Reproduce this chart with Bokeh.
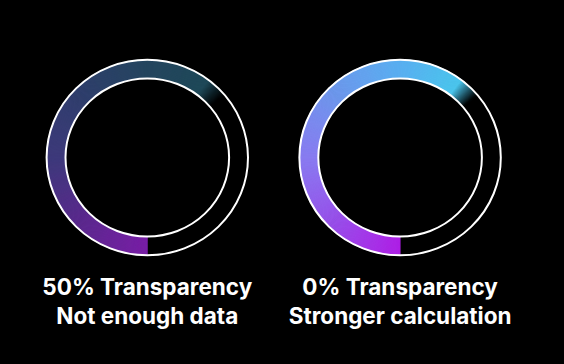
import numpy as np
from bokeh.plotting import figure
from bokeh.models import Range1d
from bokeh.core.properties import value
from bokeh.embed import file_html
from bokeh.resources import INLINE

# ---- data ----
titles = ["50% Transparency", "0% Transparency"]
subtitles = ["Not enough data", "Stronger calculation"]
fill_pct = [64, 64]  # share of the ring that is filled, starting at 6 o'clock, clockwise
stop_pos = [0.0, 0.2, 0.39, 0.59, 0.78, 0.945, 1.0]
stops_50 = ["#7a1fa8", "#5c2a90", "#3e3a7c", "#30406e", "#254660", "#1f4a5a", "#000000"]
stops_0 = ["#b020e8", "#9a52ee", "#8a7cf2", "#6f9af0", "#5ab0f2", "#4cc8f0", "#000000"]
ring_stops = [stops_50, stops_0]

# ---- layout (figure pixel space, y downward) ----
W, H = 548, 348
centers_x = [138.8, 391.6]
center_y = 149.0
rx_out, ry_out = 100.7, 97.8
rx_in, ry_in = 81.8, 79.0
title_y = 278
sub_y = 307


def hex2rgb(h):
    h = h.lstrip("#")
    return np.array([int(h[i:i + 2], 16) for i in (0, 2, 4)], dtype=float)


def color_at(t, stops):
    rgbs = [hex2rgb(c) for c in stops]
    for k in range(len(stop_pos) - 1):
        if stop_pos[k] <= t <= stop_pos[k + 1]:
            f = (t - stop_pos[k]) / (stop_pos[k + 1] - stop_pos[k])
            c = rgbs[k] * (1 - f) + rgbs[k + 1] * f
            return "#%02x%02x%02x" % tuple(int(round(v)) for v in c)
    c = rgbs[-1]
    return "#%02x%02x%02x" % tuple(int(v) for v in c)


p = figure(width=W, height=H, output_backend="svg", toolbar_location=None,
           x_range=Range1d(0, W), y_range=Range1d(H, 0), min_border=0,
           background_fill_color="#000000", border_fill_color="#000000",
           outline_line_color=None)
p.axis.visible = False
p.grid.visible = False

for cx, pct, stops in zip(centers_x, fill_pct, ring_stops):
    span = 360.0 * pct / 100.0
    n = int(round(span * 2))
    xs, ys, cols = [], [], []
    for i in range(n):
        a0 = np.radians(180.0 + span * i / n)
        a1 = np.radians(180.0 + span * (i + 1) / n)
        t = (i + 0.5) / n
        xs.append([cx + rx_out * np.sin(a0), cx + rx_out * np.sin(a1),
                   cx + rx_in * np.sin(a1), cx + rx_in * np.sin(a0)])
        ys.append([center_y - ry_out * np.cos(a0), center_y - ry_out * np.cos(a1),
                   center_y - ry_in * np.cos(a1), center_y - ry_in * np.cos(a0)])
        cols.append(color_at(t, stops))
    p.patches(xs, ys, fill_color=cols, line_color=cols, line_width=0.8)

p.ellipse(x=centers_x, y=[center_y] * 2, width=2 * rx_out, height=2 * ry_out,
          fill_color=None, line_color="white", line_width=2)
p.ellipse(x=centers_x, y=[center_y] * 2, width=2 * rx_in, height=2 * ry_in,
          fill_color=None, line_color="white", line_width=2)

p.text(x=centers_x, y=[title_y] * 2, text=titles, text_font=value("Inter"),
       text_font_size="22.5px", text_font_style="bold", text_color="white",
       text_align="center", text_baseline="alphabetic")
p.text(x=centers_x, y=[sub_y] * 2, text=subtitles, text_font=value("Inter"),
       text_font_size="22.5px", text_font_style="bold", text_color="white",
       text_align="center", text_baseline="alphabetic")

html = file_html(p, INLINE)
html = html.replace(
    "</head>",
    "<style>html,body{background:#000000;}body{padding:8px !important;box-sizing:border-box;}</style></head>",
    1)
open("out.html", "w").write(html)
